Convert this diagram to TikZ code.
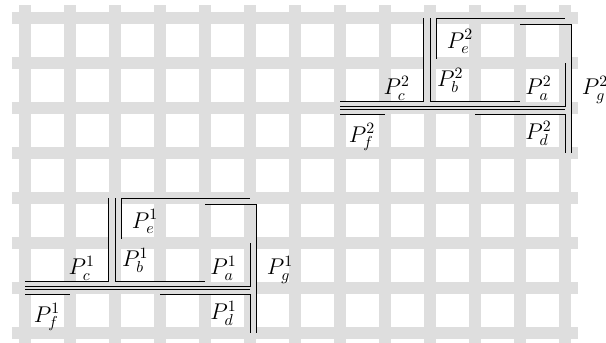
\documentclass[tikz,border=0pt]{standalone}
\tikzset{
    lbl/.style={anchor=base west, inner sep=0pt, font=\Large},
    route/.style={line width=0.6pt}
}
\begin{document}
\begin{tikzpicture}
    \useasboundingbox (-0.556,-0.222) rectangle (12.911,7.4);

    % Grid
    \draw[line width=0.267cm, black!13, step=1] (-0.29,-0.29) grid (12.29,7.29);

    % Two copies of the routing
    \foreach \dx/\dy/\k in {0/0/1, 7/4/2} {
    \begin{scope}[shift={(\dx,\dy)}]
        % Paths
        \draw[route] (0,1.15) -- (1.85,1.15) -- (1.85,3);
        \draw[route] (2,3) -- (2,1.15) -- (4,1.15);
        \draw[route] (2.15,2.1) -- (2.15,3) -- (5,3);
        \draw[route] (5,2) -- (5,1.035) -- (0,1.035);
        \draw[route] (0,0.965) -- (5,0.965);
        \draw[route] (0,0.85) -- (1,0.85);
        \draw[route] (3,0.85) -- (5,0.85) -- (5,0);
        \draw[route] (4,2.85) -- (5.15,2.85) -- (5.15,0);

        % Labels
        \node[lbl] (pc\k) at (0.96,1.29) {$P_c^{\k}$};
        \node[lbl] (pb\k) at (2.15,1.47) {$P_b^{\k}$};
        \node[lbl] (pa\k) at (4.11,1.29) {$P_a^{\k}$};
        \node[lbl] (pg\k) at (5.37,1.29) {$P_g^{\k}$};
        \node[lbl] (pe\k) at (2.37,2.33) {$P_e^{\k}$};
        \node[lbl] (pf\k) at (0.19,0.24) {$P_f^{\k}$};
        \node[lbl] (pd\k) at (4.11,0.29) {$P_d^{\k}$};
    \end{scope}
    }
\end{tikzpicture}
\end{document}
